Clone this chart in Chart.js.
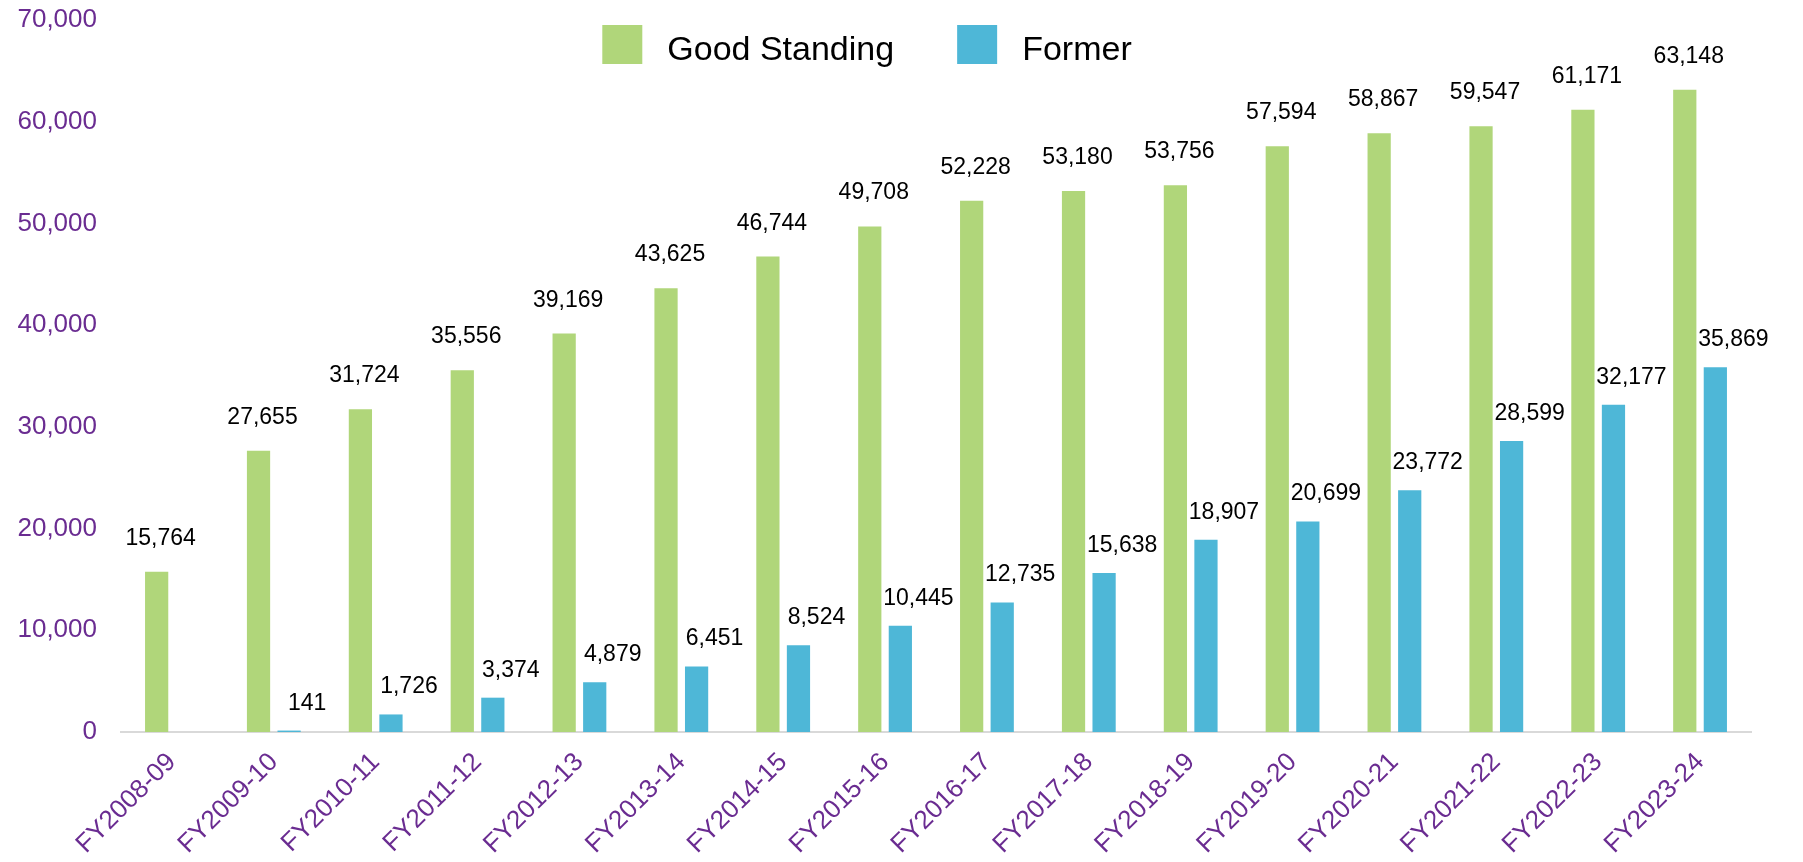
<!DOCTYPE html>
<html>
<head>
<meta charset="utf-8">
<script src="https://cdn.jsdelivr.net/npm/chart.js@4.4.1/dist/chart.umd.min.js"></script>
<style>
  html, body { margin: 0; padding: 0; background: #ffffff; }
  #wrap { width: 1803px; height: 862px; }
</style>
</head>
<body>
<div id="wrap"><canvas id="chart" width="1803" height="862"></canvas></div>
<script>
const years = ['FY2008-09', 'FY2009-10', 'FY2010-11', 'FY2011-12', 'FY2012-13', 'FY2013-14',
  'FY2014-15', 'FY2015-16', 'FY2016-17', 'FY2017-18', 'FY2018-19', 'FY2019-20',
  'FY2020-21', 'FY2021-22', 'FY2022-23', 'FY2023-24'];
const goodStanding = [15764, 27655, 31724, 35556, 39169, 43625, 46744, 49708,
  52228, 53180, 53756, 57594, 58867, 59547, 61171, 63148];
const former = [null, 141, 1726, 3374, 4879, 6451, 8524, 10445,
  12735, 15638, 18907, 20699, 23772, 28599, 32177, 35869];
const yTicks = [0, 10000, 20000, 30000, 40000, 50000, 60000, 70000];

const FONT = '"Liberation Sans", Arial, sans-serif';
const PURPLE = '#6a2c91';
const GREEN = '#b0d67a';
const BLUE = '#4eb7d7';

function fmt(v) {
  return Number(v).toLocaleString('en-US');
}

// value labels above each bar (Excel style, blue ones sit a bit to the right)
const barLabels = {
  id: 'barLabels',
  afterDatasetsDraw(chart) {
    const ctx = chart.ctx;
    ctx.save();
    ctx.font = '23px ' + FONT;
    ctx.fillStyle = '#000000';
    ctx.textAlign = 'center';
    ctx.textBaseline = 'alphabetic';
    chart.data.datasets.forEach((ds, i) => {
      const meta = chart.getDatasetMeta(i);
      const dx = i === 0 ? 4 : 18;
      const dy = i === 0 ? 27 : 21;
      meta.data.forEach((bar, j) => {
        const v = ds.data[j];
        if (v === null || v === undefined) return;
        ctx.fillText(fmt(v), bar.x + dx, bar.y - dy);
      });
    });
    ctx.restore();
  }
};

// legend drawn by hand so it sits where the original one is
const topLegend = {
  id: 'topLegend',
  afterDraw(chart) {
    const ctx = chart.ctx;
    ctx.save();
    ctx.font = '34px ' + FONT;
    ctx.textBaseline = 'alphabetic';
    const items = chart.data.datasets.map(ds => ({
      label: ds.label,
      color: ds.backgroundColor,
      w: ctx.measureText(ds.label).width
    }));
    const box = 40, gap = 25, between = 63;
    let total = 0;
    items.forEach((it, i) => {
      total += box + gap + it.w + (i < items.length - 1 ? between : 0);
    });
    let x = 867 - total / 2;
    items.forEach(it => {
      ctx.fillStyle = it.color;
      ctx.fillRect(x, 25, box, 39);
      ctx.fillStyle = '#000000';
      ctx.fillText(it.label, x + box + gap, 60);
      x += box + gap + it.w + between;
    });
    ctx.restore();
  }
};

const ctx = document.getElementById('chart').getContext('2d');
new Chart(ctx, {
  type: 'bar',
  data: {
    labels: years,
    datasets: [
      {
        label: 'Good Standing',
        data: goodStanding,
        backgroundColor: GREEN,
        categoryPercentage: 0.6,
        barPercentage: 0.76
      },
      {
        label: 'Former',
        data: former,
        backgroundColor: BLUE,
        categoryPercentage: 0.6,
        barPercentage: 0.76
      }
    ]
  },
  options: {
    responsive: false,
    animation: false,
    layout: {
      padding: { top: 20, right: 52, left: 0, bottom: 0 }
    },
    plugins: {
      legend: { display: false },
      tooltip: { enabled: false },
      title: { display: false }
    },
    scales: {
      x: {
        grid: { display: false, drawTicks: false },
        border: { display: true, color: '#d9d9d9', width: 2 },
        ticks: {
          color: PURPLE,
          font: { family: FONT, size: 26 },
          maxRotation: 45,
          minRotation: 45,
          padding: 15,
          autoSkip: false
        },
        afterFit(scale) {
          scale.height = 130;
          scale.paddingLeft = 0;
          scale.paddingRight = 0;
        }
      },
      y: {
        min: 0,
        max: 70000,
        afterBuildTicks(axis) {
          axis.ticks = yTicks.map(v => ({ value: v }));
        },
        grid: { display: false, drawTicks: false },
        border: { display: false },
        ticks: {
          color: PURPLE,
          font: { family: FONT, size: 26 },
          padding: 24,
          callback: v => fmt(v)
        },
        afterFit(scale) {
          scale.width = 121;
          scale.paddingTop = 0;
          scale.paddingBottom = 0;
        }
      }
    }
  },
  plugins: [barLabels, topLegend]
});
</script>
</body>
</html>
